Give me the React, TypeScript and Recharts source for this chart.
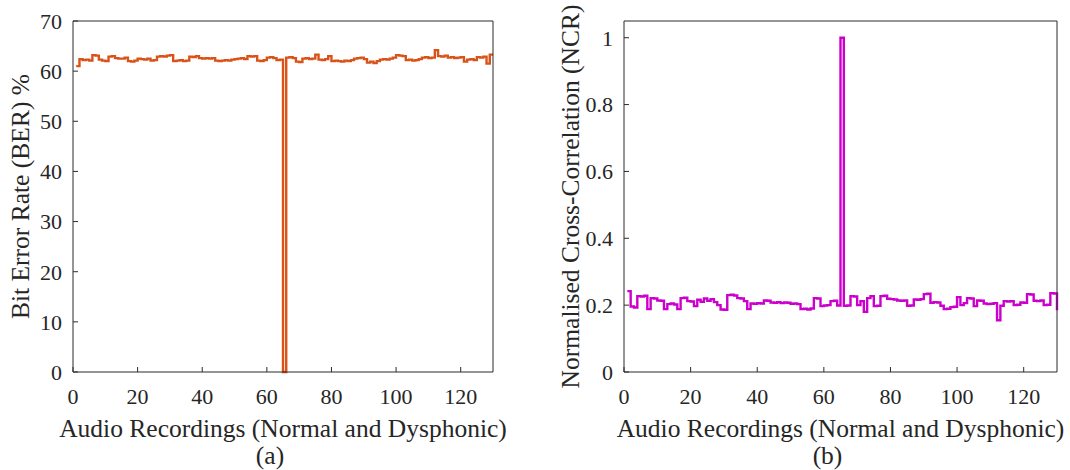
import { LineChart, Line, XAxis, YAxis } from 'recharts';

// BER (%) per recording
const berValues = [
  61.0, 62.4, 62.2, 62.3, 62.1, 63.2, 63.1, 62.3, 62.1, 62.0,
  62.9, 63.0, 62.6, 62.5, 62.5, 62.7, 62.0, 61.9, 62.1, 62.5,
  62.4, 62.3, 62.5, 62.1, 62.2, 62.9, 63.0, 62.9, 63.1, 63.2,
  62.0, 62.1, 62.2, 62.0, 62.1, 62.9, 62.8, 63.0, 62.6, 62.5,
  62.6, 62.5, 62.6, 62.1, 62.0, 62.1, 62.2, 62.1, 62.3, 62.4,
  62.5, 62.6, 62.4, 63.0, 62.9, 63.0, 62.1, 62.0, 62.2, 62.7,
  62.8, 62.6, 62.2, 62.3, 0, 62.7, 62.8, 62.6, 61.9, 61.8,
  62.5, 62.6, 62.4, 62.5, 63.3, 62.3, 62.2, 62.4, 63.0, 62.0,
  62.1, 62.0, 61.9, 62.1, 62.0, 62.2, 62.5, 62.6, 62.7, 62.4,
  61.7, 61.9, 61.6, 62.0, 62.3, 62.4, 62.3, 62.5, 62.7, 63.2,
  63.1, 63.0, 62.2, 62.3, 62.1, 62.2, 62.4, 62.7, 62.8, 62.6,
  62.7, 64.2, 63.0, 62.9, 63.1, 62.7, 62.8, 62.6, 62.7, 62.8,
  61.9, 62.3, 62.4, 62.2, 62.8, 62.7, 62.9, 61.5, 63.3, 63.3,
];

// NCR per recording
const ncrValues = [
  0.242, 0.196, 0.193, 0.227, 0.226, 0.228, 0.188, 0.221, 0.22, 0.214,
  0.213, 0.188, 0.203, 0.205, 0.202, 0.188, 0.221, 0.222, 0.212, 0.211,
  0.197, 0.216, 0.21, 0.22, 0.213, 0.218, 0.209, 0.2, 0.187, 0.186,
  0.23, 0.231, 0.229, 0.221, 0.22, 0.212, 0.188, 0.205, 0.204, 0.206,
  0.205, 0.214, 0.213, 0.208, 0.207, 0.209, 0.206, 0.208, 0.207, 0.204,
  0.205, 0.203, 0.188, 0.189, 0.187, 0.19, 0.221, 0.22, 0.197, 0.199,
  0.2, 0.212, 0.213, 0.199, 1.0, 0.198, 0.199, 0.227, 0.226, 0.2,
  0.212, 0.18, 0.221, 0.227, 0.197, 0.198, 0.227, 0.228, 0.219, 0.218,
  0.217, 0.214, 0.213, 0.214, 0.198, 0.199, 0.217, 0.216, 0.218, 0.233,
  0.234, 0.207, 0.209, 0.208, 0.198, 0.188, 0.189, 0.194, 0.195, 0.224,
  0.2, 0.206, 0.221, 0.22, 0.197, 0.214, 0.213, 0.205, 0.203, 0.204,
  0.206, 0.155, 0.198, 0.212, 0.211, 0.212, 0.2, 0.201, 0.208, 0.207,
  0.233, 0.232, 0.213, 0.212, 0.214, 0.2, 0.201, 0.236, 0.235, 0.185,
];

const recordings = berValues.map((_, i) => i + 1);

const xTicks = [0, 20, 40, 60, 80, 100, 120];
const berTicks = [0, 10, 20, 30, 40, 50, 60, 70];
const ncrTicks = [0, 0.2, 0.4, 0.6, 0.8, 1];

const xTitle = 'Audio Recordings (Normal and Dysphonic)';
const berTitle = 'Bit Error Rate (BER) %';
const ncrTitle = 'Normalised Cross-Correlation (NCR)';

const data = recordings.map((x, i) => ({ x, ber: berValues[i], ncr: ncrValues[i] }));

const FONT = '"Liberation Serif", "Times New Roman", serif';
const INK = '#262626';
const AXIS = '#2b2b2b';
const tickStyle = { fontSize: 22, fill: INK, fontFamily: FONT };
const TITLE_SIZE = 25.5;

interface PanelProps {
  dataKey: 'ber' | 'ncr';
  color: string;
  yDomain: [number, number];
  yTicks: number[];
  yTitle: string;
  yTitleX: number;
  caption: string;
  left: number;
  marginLeft: number;
  marginRight: number;
}

function Panel({ dataKey, color, yDomain, yTicks, yTitle, yTitleX, caption, left, marginLeft, marginRight }: PanelProps) {
  const plotTop = 21;
  const plotBottom = 372;
  const midY = (plotTop + plotBottom) / 2;

  const xLabel = (props: any) => {
    const vb = props.viewBox;
    const cx = vb.x + vb.width / 2;
    return (
      <g fontFamily={FONT} fill={INK}>
        <text x={cx} y={437} textAnchor="middle" fontSize={TITLE_SIZE}>
          {xTitle}
        </text>
        <text x={cx - 13} y={464} textAnchor="middle" fontSize={TITLE_SIZE}>
          {caption}
        </text>
      </g>
    );
  };

  const yLabel = () => (
    <text
      x={yTitleX}
      y={midY}
      transform={`rotate(-90, ${yTitleX}, ${midY})`}
      textAnchor="middle"
      fontSize={TITLE_SIZE}
      fontFamily={FONT}
      fill={INK}
    >
      {yTitle}
    </text>
  );

  return (
    <div style={{ position: 'absolute', left, top: 0 }}>
      <LineChart
        width={535}
        height={470}
        data={data}
        margin={{ top: plotTop - 1, right: marginRight - 1, bottom: 68, left: marginLeft }}
      >
        <XAxis
          dataKey="x"
          type="number"
          domain={[0, 130]}
          ticks={xTicks}
          height={30}
          stroke={AXIS}
          tickSize={-5}
          tickMargin={21}
          tick={tickStyle}
          label={xLabel}
        />
        <XAxis
          xAxisId="top"
          orientation="top"
          dataKey="x"
          type="number"
          domain={[0, 130]}
          ticks={xTicks}
          height={1}
          stroke={AXIS}
          tickSize={-5}
          tick={false}
        />
        <YAxis
          yAxisId="l"
          domain={yDomain}
          ticks={yTicks}
          width={50}
          stroke={AXIS}
          tickSize={-5}
          tickMargin={16}
          tick={tickStyle}
          label={yLabel}
        />
        <YAxis
          yAxisId="r"
          orientation="right"
          domain={yDomain}
          ticks={yTicks}
          width={1}
          stroke={AXIS}
          tickSize={-5}
          tick={false}
        />
        <Line
          yAxisId="l"
          type="stepAfter"
          dataKey={dataKey}
          stroke={color}
          strokeWidth={2.4}
          dot={false}
          isAnimationActive={false}
        />
      </LineChart>
    </div>
  );
}

export default function App() {
  return (
    <div style={{ position: 'absolute', left: 0, top: 0, width: 1070, height: 470, background: '#fff' }}>
      <Panel
        dataKey="ber"
        color="#D95319"
        yDomain={[0, 70]}
        yTicks={berTicks}
        yTitle={berTitle}
        yTitleX={29}
        caption="(a)"
        left={0}
        marginLeft={23}
        marginRight={42}
      />
      <Panel
        dataKey="ncr"
        color="#CC00CC"
        yDomain={[0, 1.05]}
        yTicks={ncrTicks}
        yTitle={ncrTitle}
        yTitleX={44}
        caption="(b)"
        left={535}
        marginLeft={39}
        marginRight={13}
      />
    </div>
  );
}
